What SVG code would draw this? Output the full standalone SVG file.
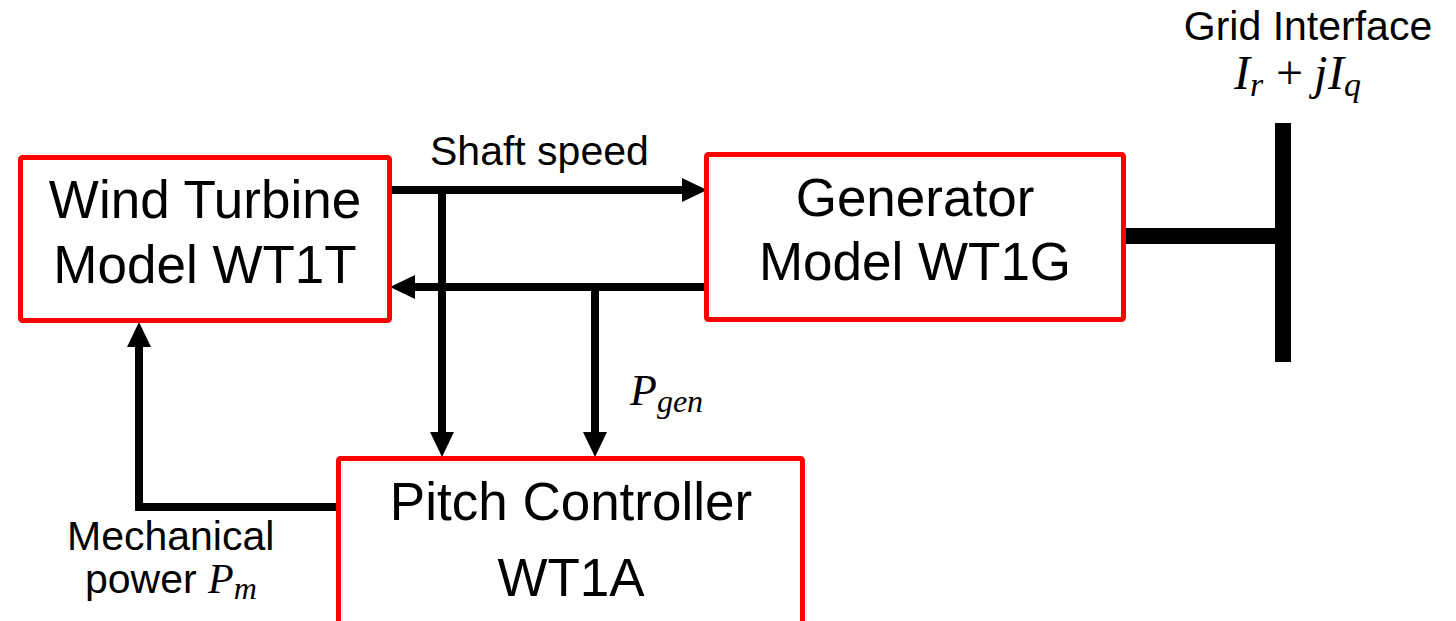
<svg xmlns="http://www.w3.org/2000/svg" width="1456" height="621" viewBox="0 0 1456 621">
<style>
.box{fill:#fff;stroke:#ff0000;stroke-width:5}
.lbl{font-family:"Liberation Sans",Arial,sans-serif;font-size:53px;fill:#000;text-anchor:middle}
.sm{font-family:"Liberation Sans",Arial,sans-serif;font-size:41px;fill:#000}
.m{font-family:"Liberation Serif","DejaVu Serif",serif;font-style:italic;fill:#000}
.con{fill:none;stroke:#000;stroke-width:8;stroke-linecap:butt;stroke-linejoin:miter}
.bus{fill:#000}
</style>
<defs>
<marker id="ah" markerUnits="userSpaceOnUse" markerWidth="25" markerHeight="24" refX="1" refY="12" orient="auto">
<path d="M0,0 L25,12 L0,24 z" fill="#000"/>
</marker>
</defs>
<rect width="1456" height="621" fill="#fff"/>
<g id="connectors">
<path class="con" d="M389,190 H683" marker-end="url(#ah)"/>
<path class="con" d="M707,287 H414" marker-end="url(#ah)"/>
<path class="con" d="M442,186 V433" marker-end="url(#ah)"/>
<path class="con" d="M595,283 V433" marker-end="url(#ah)"/>
<path class="con" d="M338,507 H139 V346" marker-end="url(#ah)"/>
<rect class="bus" x="1123" y="228" width="160" height="16"/>
</g>
<g id="wind-turbine">
<rect class="box" x="20.5" y="157.5" width="369" height="163" rx="2"/>
<text class="lbl" x="205" y="218">Wind Turbine</text>
<text class="lbl" x="205" y="283">Model WT1T</text>
</g>
<g id="generator">
<rect class="box" x="706.5" y="154.5" width="417" height="165" rx="2"/>
<text class="lbl" x="915" y="216">Generator</text>
<text class="lbl" x="915" y="280">Model WT1G</text>
</g>
<g id="pitch-controller">
<rect class="box" x="338.5" y="458.5" width="464" height="175" rx="2"/>
<text class="lbl" x="571" y="520">Pitch Controller</text>
<text class="lbl" x="571" y="596">WT1A</text>
</g>
<g id="grid-interface">
<rect class="bus" x="1275" y="123" width="16" height="239"/>
<text class="sm" x="1308" y="40" text-anchor="middle" font-size="40">Grid Interface</text>
<text class="m" y="89" font-size="48"><tspan x="1234">I</tspan><tspan font-size="34" dy="7">r</tspan><tspan x="1276" dy="-7" font-style="normal">+</tspan><tspan x="1314">j</tspan><tspan x="1328">I</tspan><tspan font-size="34" dy="7">q</tspan></text>
</g>
<g id="labels">
<text class="sm" x="430" y="165">Shaft speed</text>
<text class="m" y="405" font-size="44"><tspan x="630">P</tspan><tspan font-size="32" dy="7">gen</tspan></text>
<text class="sm" x="67" y="550">Mechanical</text>
<text class="sm" x="85" y="593">power <tspan class="m" font-size="42">P</tspan><tspan class="m" font-size="32" dy="6">m</tspan></text>
</g>
</svg>
